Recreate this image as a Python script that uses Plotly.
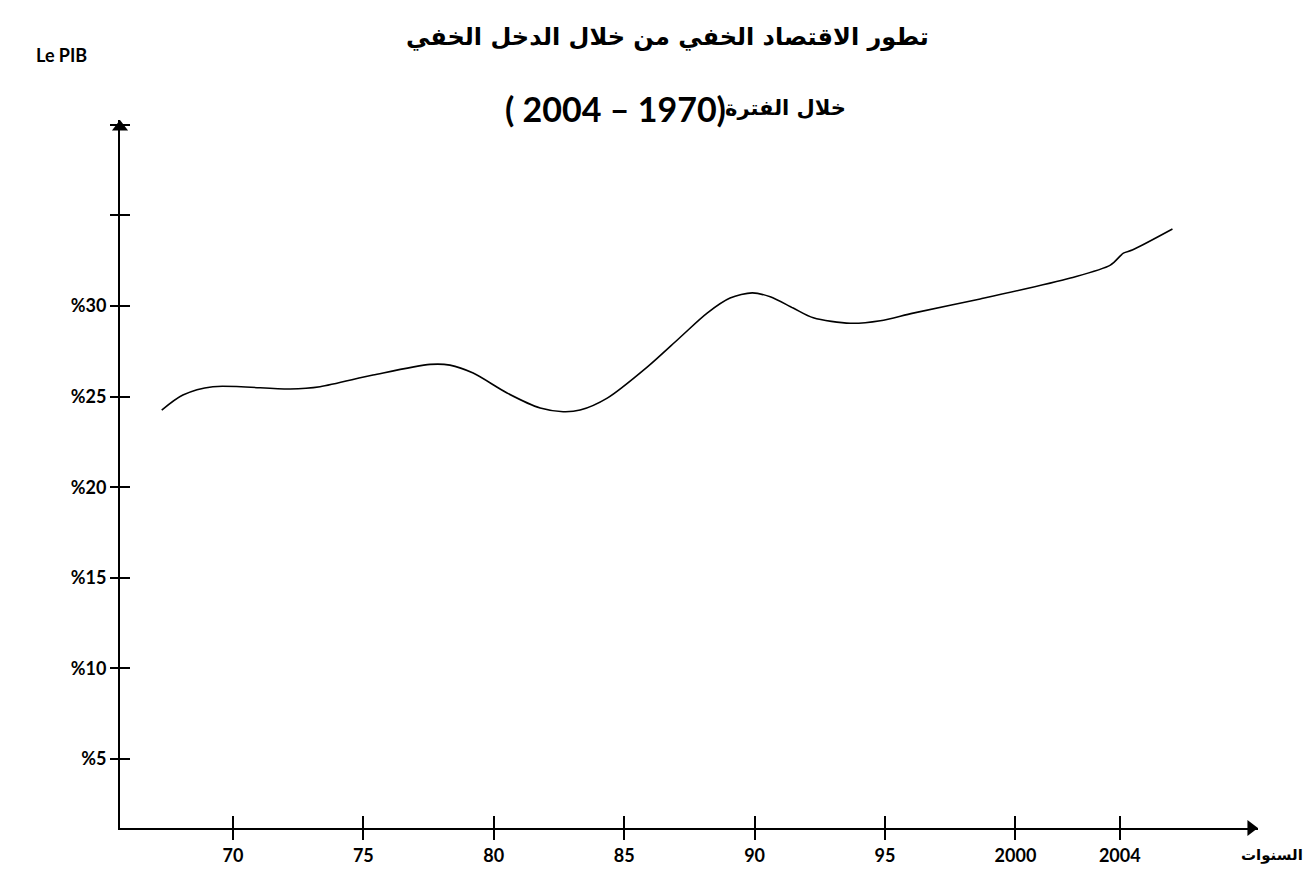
import plotly.graph_objects as go

# ---- data ----
years = [1967.27, 1968.08, 1969.23, 1972.19, 1973.34, 1975.37, 1977.56, 1978.32,
         1979.21, 1980.51, 1981.78, 1982.66, 1983.31, 1984.35, 1985.88, 1987.15,
         1988.18, 1989.06, 1989.91, 1990.60, 1991.48, 1992.25, 1993.67, 1994.82,
         1996.08, 1998.65, 2002.11, 2003.64, 2004.14, 2004.48, 2006.02]
share = [24.26, 25.09, 25.55, 25.42, 25.55, 26.19, 26.78, 26.74,
         26.30, 25.20, 24.37, 24.17, 24.26, 24.92, 26.63, 28.28,
         29.61, 30.44, 30.73, 30.51, 29.89, 29.35, 29.05, 29.19,
         29.61, 30.39, 31.55, 32.26, 32.92, 33.09, 34.25]

x_tickvals = [1970, 1975, 1980, 1985, 1990, 1995, 2000, 2004]
x_ticktext = ["70", "75", "80", "85", "90", "95", "2000", "2004"]
y_tickvals = [5, 10, 15, 20, 25, 30, 35, 40]
y_ticktext = ["%5", "%10", "%15", "%20", "%25", "%30", "", ""]

title1 = "تطور الاقتصاد الخفي من خلال الدخل الخفي"
title2_words = "خلال الفترة"
title2_period_visual = "( 2004 – 1970)"   # the period as it appears on the page
y_title = "Le PIB"
x_title = "السنوات"

X_RANGE = [1965.67, 2009.3]
Y_RANGE = [1.19, 40.27]

LAT = "Lato, Open Sans, sans-serif"
AR = "DejaVu Sans, sans-serif"

fig = go.Figure()
fig.add_trace(go.Scatter(x=years, y=share, mode="lines",
                         line=dict(color="black", width=1.6, shape="spline", smoothing=0.8),
                         hoverinfo="skip", showlegend=False))
# arrow heads at the ends of the axes
fig.add_trace(go.Scatter(x=[X_RANGE[0], X_RANGE[1] - 0.27], y=[Y_RANGE[1] - 0.39, Y_RANGE[0]],
                         mode="markers", cliponaxis=False,
                         marker=dict(symbol=["triangle-up", "triangle-right"], size=14,
                                     color="black", line=dict(width=0)),
                         hoverinfo="skip", showlegend=False))
# empty trace to host the overlay axes (crossing ticks)
fig.add_trace(go.Scatter(x=[], y=[], xaxis="x2", yaxis="y2", showlegend=False, hoverinfo="skip"))

tickfont = dict(family=LAT, size=18, color="black", weight="bold")

fig.update_layout(
    width=1315, height=871,
    margin=dict(l=120, r=57, t=120, b=43),
    paper_bgcolor="white", plot_bgcolor="white",
    xaxis=dict(range=X_RANGE, showgrid=False, zeroline=False, showline=True,
               linecolor="black", linewidth=2, ticks="outside", ticklen=10,
               tickwidth=1.5, tickcolor="black", tickvals=x_tickvals,
               ticktext=x_ticktext, tickfont=tickfont, automargin=False),
    yaxis=dict(range=Y_RANGE, showgrid=False, zeroline=False, showline=True,
               linecolor="black", linewidth=2, ticks="outside", ticklen=8,
               tickwidth=1.5, tickcolor="black", tickvals=y_tickvals,
               ticktext=y_ticktext, tickfont=tickfont, automargin=False),
    xaxis2=dict(range=X_RANGE, overlaying="x", anchor="y2", side="bottom",
                showgrid=False, zeroline=False, showline=False, ticks="inside",
                ticklen=12, tickwidth=1.5, tickcolor="black", tickvals=x_tickvals,
                showticklabels=False, automargin=False),
    yaxis2=dict(range=Y_RANGE, overlaying="y", anchor="x2", side="left",
                showgrid=False, zeroline=False, showline=False, ticks="inside",
                ticklen=10, tickwidth=1.5, tickcolor="black", tickvals=y_tickvals,
                showticklabels=False, automargin=False),
)

ann = []
ann.append(dict(x=0.4815, y=1.117, xref="paper", yref="paper", text=title1,
                showarrow=False, xanchor="center", yanchor="middle",
                font=dict(family=AR, size=24, color="black", weight="bold")))
ann.append(dict(x=0.6397, y=1.0169, xref="paper", yref="paper", text=title2_words,
                showarrow=False, xanchor="right", yanchor="middle",
                font=dict(family=AR, size=21, color="black", weight="bold")))
ann.append(dict(x=0.5343, y=1.0169, xref="paper", yref="paper", text=title2_period_visual,
                showarrow=False, xanchor="right", yanchor="middle",
                font=dict(family=LAT, size=34, color="black", weight="bold")))
ann.append(dict(x=-0.051, y=1.092, xref="paper", yref="paper", text=y_title,
                showarrow=False, xanchor="center", yanchor="middle",
                font=dict(family=LAT, size=18, color="black", weight="bold")))
ann.append(dict(x=1.0125, y=-0.038, xref="paper", yref="paper", text=x_title,
                showarrow=False, xanchor="center", yanchor="middle",
                font=dict(family=AR, size=15, color="black", weight="bold")))
fig.update_layout(annotations=ann)

fig.write_html("out.html", config={"displayModeBar": False},
               post_script="document.body.style.margin='0';document.body.style.overflow='hidden';")
